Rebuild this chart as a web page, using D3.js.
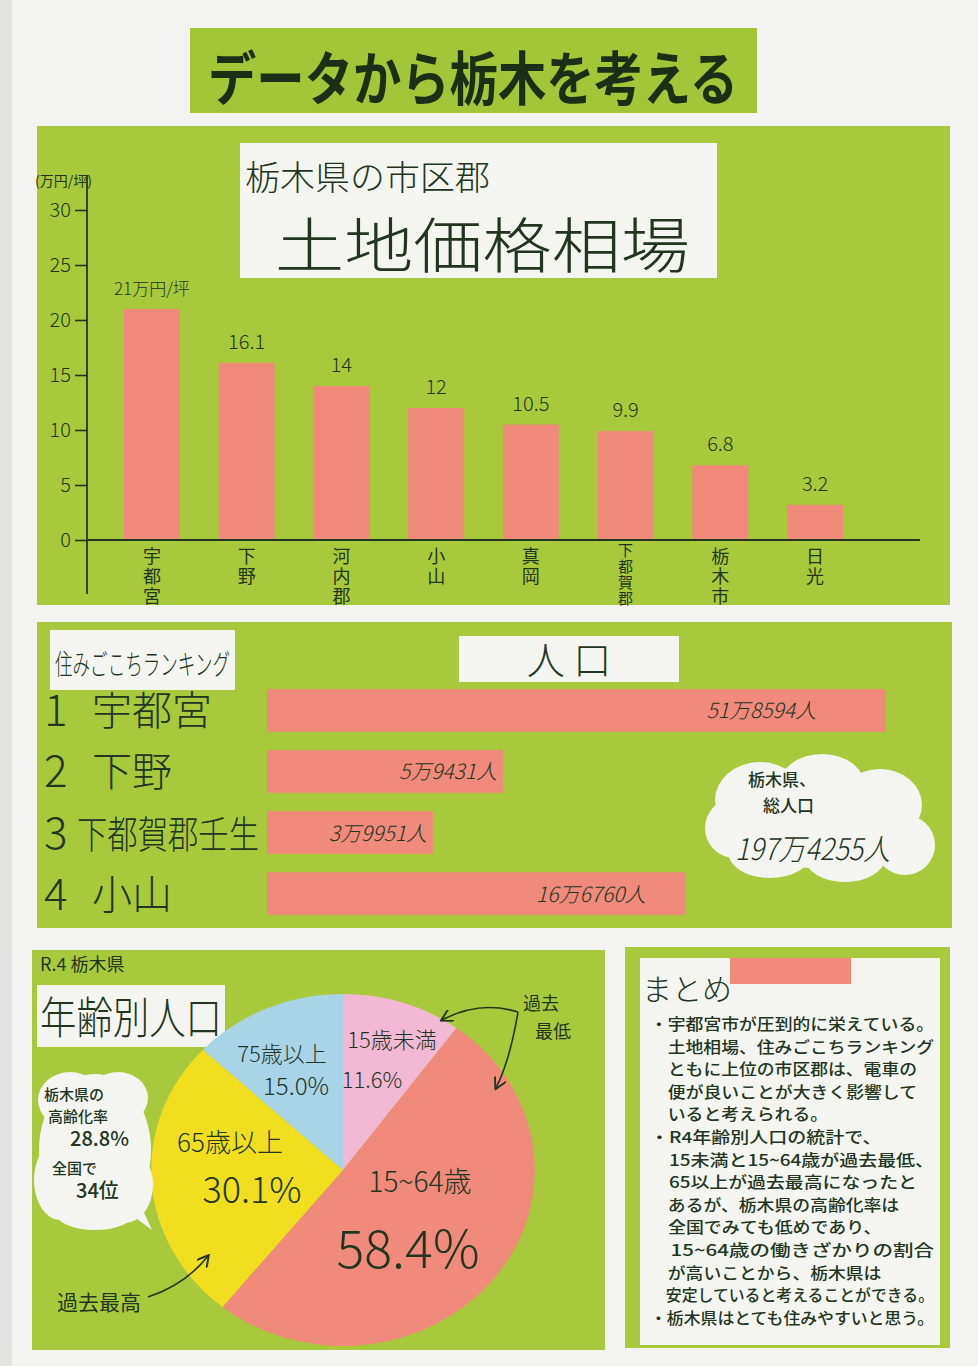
<!DOCTYPE html>
<html><head><meta charset="utf-8">
<script src="https://cdn.jsdelivr.net/npm/d3@7"></script>
<style>
html,body{margin:0;padding:0;background:#f3f3f1;}
svg{display:block;}
text{font-family:"Noto Sans CJK JP","Noto Sans",sans-serif;fill:#22361f;}
</style></head>
<body>
<svg id="c" width="978" height="1366"></svg>
<script>
// ---------- DATA ----------
const landCategories = ["宇都宮","下野","河内郡","小山","真岡","下都賀郡","栃木市","日光"];
const landValues = [21, 16.1, 14, 12, 10.5, 9.9, 6.8, 3.2];
const landTicks = [0,5,10,15,20,25,30];
const landUnit = "(万円/坪)";

const rankNames = ["宇都宮","下野","下都賀郡壬生","小山"];
const rankNumbers = ["1","2","3","4"];
const popValues = [518594, 59431, 39951, 166760];
const totalPop = 1974255;

const ageLabels = ["15歳未満","15~64歳","65歳以上","75歳以上"];
const ageValues = [11.6, 58.4, 30.1, 15.0];
const agingRate = 28.8;
const agingRank = 34;

const summaryLines = [
 "・宇都宮市が圧到的に栄えている。",
 "　土地相場、住みごこちランキング",
 "　ともに上位の市区郡は、電車の",
 "　便が良いことが大きく影響して",
 "　いると考えられる。",
 "・R4年齢別人口の統計で、",
 "　15未満と15~64歳が過去最低、",
 "　65以上が過去最高になったと",
 "　あるが、栃木県の高齢化率は",
 "　全国でみても低めであり、",
 "　15~64歳の働きざかりの割合",
 "　が高いことから、栃木県は",
 "　安定していると考えることができる。",
 "・栃木県はとても住みやすいと思う。"
];

// ---------- STYLE ----------
const GREEN = "#a9c93c", SALMON = "#f08a7a", PAPER = "#f4f4f1", INK = "#22361f";
const svg = d3.select("#c");

svg.append("rect").attr("x",0).attr("y",0).attr("width",978).attr("height",1366).attr("fill","#f3f3f1");
svg.append("rect").attr("x",0).attr("y",0).attr("width",12).attr("height",1366).attr("fill","#e4e4e0");

// ---------- TITLE ----------
svg.append("rect").attr("x",190).attr("y",28).attr("width",567).attr("height",85).attr("fill","#a3c639");
svg.append("text").attr("x",473).attr("y",100).attr("text-anchor","middle")
  .attr("font-size",58).attr("font-weight",700).attr("textLength",530).attr("lengthAdjust","spacingAndGlyphs")
  .style("fill","#1d2e16").text("データから栃木を考える");

// ---------- PANEL 1 : land price ----------
svg.append("rect").attr("x",37).attr("y",126).attr("width",913).attr("height",479).attr("fill",GREEN);
svg.append("rect").attr("x",240).attr("y",143).attr("width",477).attr("height",135).attr("fill",PAPER);
svg.append("text").attr("x",245).attr("y",190).attr("font-size",34).attr("font-weight",300)
  .attr("textLength",245).attr("lengthAdjust","spacingAndGlyphs").text("栃木県の市区郡");
svg.append("text").attr("x",275).attr("y",268).attr("font-size",60).attr("font-weight",300)
  .attr("textLength",415).attr("lengthAdjust","spacingAndGlyphs").text("土地価格相場");

const y = d3.scaleLinear().domain([0,30]).range([540,210]);
const x = d3.scaleBand().domain(landCategories).range([105,862]).paddingInner(0.41).paddingOuter(0.2);

const gy = svg.append("g").attr("transform","translate(87,0)")
  .call(d3.axisLeft(y).tickValues(landTicks).tickSize(12).tickPadding(4));
gy.select(".domain").remove();
gy.selectAll("line").attr("stroke",INK).attr("stroke-width",1.6);
gy.selectAll("text").attr("font-size",20).attr("font-weight",300).style("fill",INK)
  .attr("font-family","'Noto Sans CJK JP',sans-serif");
svg.append("line").attr("x1",87).attr("x2",87).attr("y1",175).attr("y2",594).attr("stroke",INK).attr("stroke-width",1.8);
svg.append("line").attr("x1",87).attr("x2",920).attr("y1",y(0)).attr("y2",y(0)).attr("stroke",INK).attr("stroke-width",1.8);
svg.append("text").attr("x",35).attr("y",186).attr("font-size",14).attr("font-weight",400).text(landUnit);

svg.append("g").selectAll("rect").data(landValues).join("rect")
  .attr("x",(d,i)=>x(landCategories[i])).attr("width",x.bandwidth())
  .attr("y",d=>y(d)).attr("height",d=>y(0)-y(d)-1).attr("fill",SALMON);

svg.append("g").selectAll("text").data(landValues).join("text")
  .attr("x",(d,i)=>x(landCategories[i])+x.bandwidth()/2).attr("y",d=>y(d)-14)
  .attr("text-anchor","middle").attr("font-size",(d,i)=>i===0?17:20).attr("font-weight",300)
  .text((d,i)=> i===0 ? d+"万円/坪" : d3.format(".1~f")(d));

// vertical category labels
svg.append("g").selectAll("text").data(landCategories).join("text")
  .attr("x",d=>x(d)+x.bandwidth()/2).attr("y",d=>d.length>3?543:547)
  .attr("writing-mode","vertical-rl").style("text-orientation","upright")
  .attr("font-size",d=>d.length>3?15:18).attr("font-weight",400)
  .attr("letter-spacing",d=>d.length>3?1:2)
  .text(d=>d);

// ---------- PANEL 2 : ranking + population ----------
svg.append("rect").attr("x",37).attr("y",622).attr("width",915).attr("height",306).attr("fill",GREEN);
svg.append("rect").attr("x",50).attr("y",630).attr("width",185).attr("height",60).attr("fill",PAPER);
svg.append("text").attr("x",55).attr("y",675).attr("font-size",28).attr("font-weight",300)
  .attr("textLength",175).attr("lengthAdjust","spacingAndGlyphs").text("住みごこちランキング");
svg.append("rect").attr("x",459).attr("y",636).attr("width",220).attr("height",46).attr("fill",PAPER);
svg.append("text").attr("x",569).attr("y",674).attr("text-anchor","middle").attr("font-size",38).attr("font-weight",300).text("人 口");

const rowY = d3.scaleBand().domain(rankNames).range([686,918]).paddingInner(0.3).paddingOuter(0.05);
const px = d3.scaleLog().domain([15630, 518594]).range([0, 619]);

rankNames.forEach((nm,i)=>{
  const yc = rowY(nm)+rowY.bandwidth()/2;
  svg.append("text").attr("x",44).attr("y",yc+16).attr("font-size",44).attr("font-weight",300).text(rankNumbers[i]);
  const long = nm.length>3;
  svg.append("text").attr("x",long?77:92).attr("y",yc+15).attr("font-size",long?38:40).attr("font-weight",300)
    .attr("textLength",long?182:(nm.length*40)).attr("lengthAdjust","spacingAndGlyphs").text(nm);
});

svg.append("g").selectAll("rect").data(popValues).join("rect")
  .attr("x",267).attr("y",(d,i)=>rowY(rankNames[i])).attr("height",rowY.bandwidth())
  .attr("width",d=>px(d)).attr("fill",SALMON);
const fmtPop = v => Math.floor(v/10000)+"万"+(v%10000)+"人";
svg.append("g").selectAll("text").data(popValues).join("text")
  .attr("x",(d,i)=>267+px(d)-(i===0?70:i===3?40:6)).attr("y",(d,i)=>rowY(rankNames[i])+rowY.bandwidth()/2+8)
  .attr("text-anchor","end").attr("font-size",21).attr("font-weight",300).attr("font-style","italic").text(fmtPop);

// cloud
const cloud = svg.append("g").attr("fill","#f4f4f1");
[[815,818,100,50],[760,800,45,38],[822,788,44,34],[880,805,42,36],[905,845,30,30],[845,858,40,24],[770,852,42,26],[735,828,30,30]]
  .forEach(c=>cloud.append("ellipse").attr("cx",c[0]).attr("cy",c[1]).attr("rx",c[2]).attr("ry",c[3]));
svg.append("text").attr("x",748).attr("y",786).attr("font-size",17).attr("font-weight",500).text("栃木県、");
svg.append("text").attr("x",763).attr("y",812).attr("font-size",17).attr("font-weight",500).text("総人口");
svg.append("text").attr("x",735).attr("y",860).attr("font-size",30).attr("font-weight",300).attr("font-style","italic")
  .attr("textLength",155).attr("lengthAdjust","spacingAndGlyphs").text(fmtPop(totalPop));

// ---------- PANEL 3 : age pie ----------
svg.append("rect").attr("x",32).attr("y",950).attr("width",573).attr("height",400).attr("fill",GREEN);
svg.append("text").attr("x",40).attr("y",971).attr("font-size",18).attr("font-weight",400).text("R.4 栃木県");
svg.append("rect").attr("x",37).attr("y",985).attr("width",188).attr("height",62).attr("fill",PAPER);
svg.append("text").attr("x",40).attr("y",1034).attr("font-size",44).attr("font-weight",300)
  .attr("textLength",182).attr("lengthAdjust","spacingAndGlyphs").text("年齢別人口");

const pieColors = ["#f3b9d4","#f08a7a","#f1df1f","#a8d4e8"];
const arcs = d3.pie().sort(null)(ageValues);
const arc = d3.arc().innerRadius(0).outerRadius(176);
svg.append("g").attr("transform","translate(343,1170) scale(1.09,1)")
  .selectAll("path").data(arcs).join("path").attr("d",arc).attr("fill",(d,i)=>pieColors[i]);

const lab = [
  {t:ageLabels[0], x:392, y:1048, fs:22},
  {t:ageValues[0].toFixed(1)+"%", x:372, y:1088, fs:22},
  {t:ageLabels[3], x:282, y:1062, fs:22},
  {t:ageValues[3].toFixed(1)+"%", x:296, y:1095, fs:24},
  {t:ageLabels[2], x:230, y:1152, fs:26},
  {t:ageValues[2].toFixed(1)+"%", x:252, y:1203, fs:36},
  {t:ageLabels[1], x:420, y:1192, fs:28},
  {t:ageValues[1].toFixed(1)+"%", x:408, y:1268, fs:52}
];
svg.append("g").selectAll("text").data(lab).join("text")
  .attr("x",d=>d.x).attr("y",d=>d.y).attr("text-anchor","middle").attr("font-size",d=>d.fs).attr("font-weight",300).text(d=>d.t);

svg.append("defs").append("marker").attr("id","ah").attr("viewBox","0 0 10 10").attr("refX",8).attr("refY",5)
  .attr("markerWidth",8).attr("markerHeight",8).attr("orient","auto-start-reverse")
  .append("path").attr("d","M0,0 L9,5 L0,10").attr("fill","none").attr("stroke",INK).attr("stroke-width",1.5);
svg.append("path").attr("d","M518,1012 Q480,1000 442,1020").attr("fill","none").attr("stroke",INK).attr("stroke-width",1.6).attr("marker-end","url(#ah)");
svg.append("path").attr("d","M518,1012 Q510,1060 496,1088").attr("fill","none").attr("stroke",INK).attr("stroke-width",1.6).attr("marker-end","url(#ah)");
svg.append("text").attr("x",523).attr("y",1010).attr("font-size",18).attr("font-weight",400).text("過去");
svg.append("text").attr("x",535).attr("y",1038).attr("font-size",18).attr("font-weight",400).text("最低");
svg.append("path").attr("d","M148,1297 Q185,1285 208,1256").attr("fill","none").attr("stroke",INK).attr("stroke-width",1.6).attr("marker-end","url(#ah)");
svg.append("text").attr("x",57).attr("y",1310).attr("font-size",21).attr("font-weight",400).text("過去最高");

// left speech cloud
const lc = svg.append("g").attr("fill","#f4f4f1");
[[95,1150,56,76],[70,1100,32,28],[118,1098,30,26],[60,1180,26,40],[125,1185,28,38],[95,1212,40,18]]
  .forEach(c=>lc.append("ellipse").attr("cx",c[0]).attr("cy",c[1]).attr("rx",c[2]).attr("ry",c[3]));
lc.append("path").attr("d","M118,1205 L152,1230 L136,1195 Z");
[["栃木県の",44,1100,15],["高齢化率",48,1122,15],[agingRate.toFixed(1)+"%",70,1146,20],["全国で",52,1174,15],[agingRank+"位",76,1198,20]]
  .forEach(a=>svg.append("text").attr("x",a[1]).attr("y",a[2]).attr("font-size",a[3]).attr("font-weight",500).text(a[0]));

// ---------- PANEL 4 : summary ----------
svg.append("rect").attr("x",625).attr("y",947).attr("width",325).attr("height",401).attr("fill",GREEN);
svg.append("rect").attr("x",640).attr("y",958).attr("width",300).attr("height",387).attr("fill",PAPER);
svg.append("rect").attr("x",730).attr("y",958).attr("width",121).attr("height",26).attr("fill",SALMON);
svg.append("text").attr("x",642).attr("y",1000).attr("font-size",30).attr("font-weight",300).text("まとめ");
svg.append("g").selectAll("text").data(summaryLines).join("text")
  .attr("x",650).attr("y",(d,i)=>1030+i*22.6).attr("font-size",15.5).attr("font-weight",500)
  .attr("textLength",d=>Math.min(284, d.length*17.8)).attr("lengthAdjust","spacingAndGlyphs").text(d=>d);
</script>
</body></html>
